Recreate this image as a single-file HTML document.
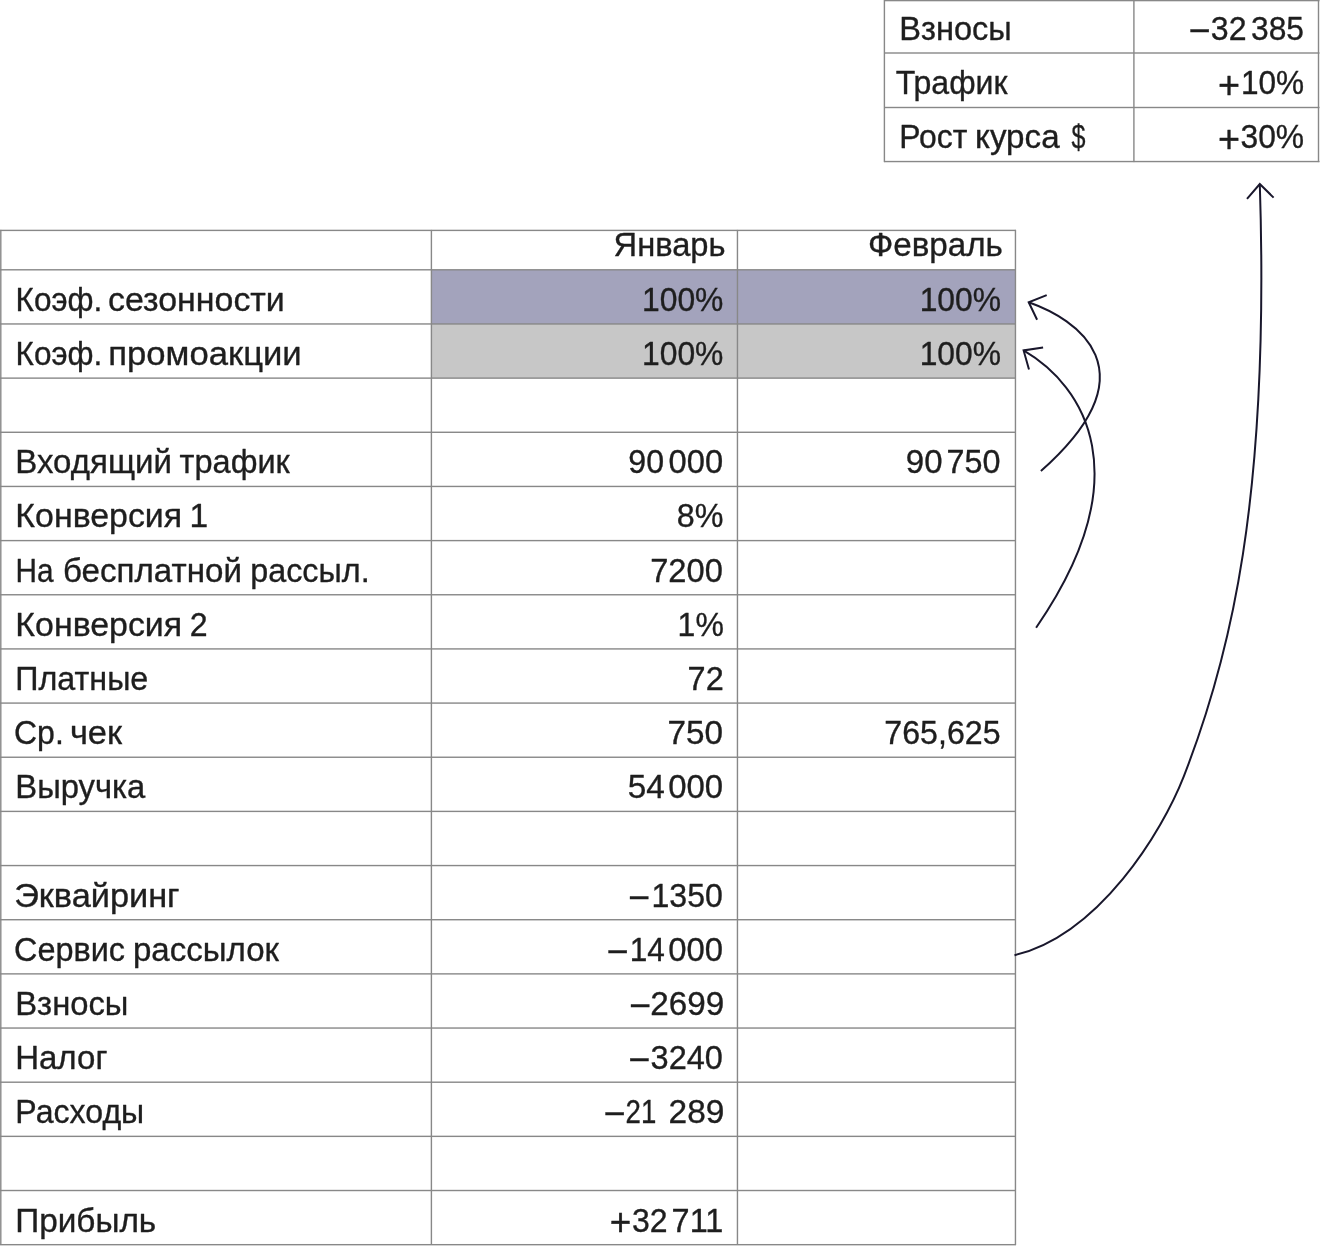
<!DOCTYPE html>
<html lang="ru"><head><meta charset="utf-8"><title>Модель выручки</title>
<style>
html,body{margin:0;padding:0;background:#fff;}
body{width:1320px;height:1246px;overflow:hidden;}
svg{display:block;will-change:transform;}
</style></head><body>
<svg width="1320" height="1246" viewBox="0 0 1320 1246">
<rect width="1320" height="1246" fill="#fff"/>
<g><rect x="431.5" y="269.8" width="584" height="54.16" fill="#a3a3bc"/><rect x="431.5" y="323.96" width="584" height="54.16" fill="#c7c7c7"/></g>
<g fill="#888888">
<rect x="0" y="229.70" width="1016" height="1.4"/>
<rect x="0" y="269.10" width="1016" height="1.4"/>
<rect x="0" y="323.26" width="1016" height="1.4"/>
<rect x="0" y="377.42" width="1016" height="1.4"/>
<rect x="0" y="431.58" width="1016" height="1.4"/>
<rect x="0" y="485.74" width="1016" height="1.4"/>
<rect x="0" y="539.90" width="1016" height="1.4"/>
<rect x="0" y="594.06" width="1016" height="1.4"/>
<rect x="0" y="648.22" width="1016" height="1.4"/>
<rect x="0" y="702.38" width="1016" height="1.4"/>
<rect x="0" y="756.54" width="1016" height="1.4"/>
<rect x="0" y="810.70" width="1016" height="1.4"/>
<rect x="0" y="864.86" width="1016" height="1.4"/>
<rect x="0" y="919.02" width="1016" height="1.4"/>
<rect x="0" y="973.18" width="1016" height="1.4"/>
<rect x="0" y="1027.34" width="1016" height="1.4"/>
<rect x="0" y="1081.50" width="1016" height="1.4"/>
<rect x="0" y="1135.66" width="1016" height="1.4"/>
<rect x="0" y="1189.82" width="1016" height="1.4"/>
<rect x="0" y="1243.98" width="1016" height="1.4"/>
<rect x="0.10" y="229.9" width="1.4" height="1015.1"/>
<rect x="430.70" y="229.9" width="1.4" height="1015.1"/>
<rect x="736.75" y="229.9" width="1.4" height="1015.1"/>
<rect x="1014.75" y="229.9" width="1.4" height="1015.1"/>
<rect x="884" y="-0.10" width="435.5" height="1.4"/>
<rect x="884" y="52.30" width="435.5" height="1.4"/>
<rect x="884" y="106.80" width="435.5" height="1.4"/>
<rect x="884" y="160.85" width="435.5" height="1.4"/>
<rect x="883.70" y="0" width="1.4" height="162.1"/>
<rect x="1133.20" y="0" width="1.4" height="162.1"/>
<rect x="1317.80" y="0" width="1.4" height="162.1"/>
</g>
<g fill="none" stroke="#19172c" stroke-width="2.0">
<path d="M1014.5,955.2 C1099.4,934.8 1162.2,831.5 1183.8,776.3 C1229.9,658.4 1269.9,500.0 1259.8,184.0"/>
<path d="M1247,198.9 L1259.8,184 L1273.6,197.6"/>
<path d="M1040.9,471.0 C1155.3,369.6 1075.8,318.8 1028.7,302.2"/>
<path d="M1046.7,295.1 L1028.7,302.2 L1037.1,319.7"/>
<path d="M1036.1,627.7 C1140.5,476.0 1085.0,386.3 1023.6,350.4"/>
<path d="M1043.1,347.5 L1023.6,350.4 L1029,369.5"/>
</g>
<g font-family="'Liberation Sans', Arial, sans-serif" fill="#1e1e1e" stroke="#1e1e1e" stroke-width="0.35" stroke-linejoin="round">
<text x="15.57" y="310.70" font-size="33" textLength="86.78" lengthAdjust="spacingAndGlyphs">Коэф.</text>
<text x="108.06" y="310.70" font-size="33" textLength="176.75" lengthAdjust="spacingAndGlyphs">сезонности</text>
<text x="15.57" y="364.87" font-size="33" textLength="86.78" lengthAdjust="spacingAndGlyphs">Коэф.</text>
<text x="108.34" y="364.87" font-size="33" textLength="193.36" lengthAdjust="spacingAndGlyphs">промоакции</text>
<text x="15.25" y="473.21" font-size="33" textLength="156.75" lengthAdjust="spacingAndGlyphs">Входящий</text>
<text x="179.61" y="473.21" font-size="33" textLength="110.24" lengthAdjust="spacingAndGlyphs">трафик</text>
<text x="15.38" y="527.38" font-size="33" textLength="166.71" lengthAdjust="spacingAndGlyphs">Конверсия</text>
<text x="15.52" y="581.55" font-size="33" textLength="38.02" lengthAdjust="spacingAndGlyphs">На</text>
<text x="62.99" y="581.55" font-size="33" textLength="178.98" lengthAdjust="spacingAndGlyphs">бесплатной</text>
<text x="250.19" y="581.55" font-size="33" textLength="119.45" lengthAdjust="spacingAndGlyphs">рассыл.</text>
<text x="15.38" y="635.72" font-size="33" textLength="166.71" lengthAdjust="spacingAndGlyphs">Конверсия</text>
<text x="15.31" y="689.89" font-size="33" textLength="132.97" lengthAdjust="spacingAndGlyphs">Платные</text>
<text x="14.00" y="744.06" font-size="33" textLength="49.81" lengthAdjust="spacingAndGlyphs">Ср.</text>
<text x="69.91" y="744.06" font-size="33" textLength="52.17" lengthAdjust="spacingAndGlyphs">чек</text>
<text x="15.27" y="798.23" font-size="33" textLength="130.05" lengthAdjust="spacingAndGlyphs">Выручка</text>
<text x="14.18" y="906.57" font-size="33" textLength="165.46" lengthAdjust="spacingAndGlyphs">Эквайринг</text>
<text x="13.98" y="960.74" font-size="33" textLength="111.02" lengthAdjust="spacingAndGlyphs">Сервис</text>
<text x="132.95" y="960.74" font-size="33" textLength="146.10" lengthAdjust="spacingAndGlyphs">рассылок</text>
<text x="15.27" y="1014.91" font-size="33" textLength="113.15" lengthAdjust="spacingAndGlyphs">Взносы</text>
<text x="15.15" y="1069.08" font-size="33" textLength="92.31" lengthAdjust="spacingAndGlyphs">Налог</text>
<text x="15.33" y="1123.25" font-size="33" textLength="128.86" lengthAdjust="spacingAndGlyphs">Расходы</text>
<text x="15.22" y="1231.59" font-size="33" textLength="141.02" lengthAdjust="spacingAndGlyphs">Прибыль</text>
<text x="613.57" y="256.40" font-size="33" textLength="111.99" lengthAdjust="spacingAndGlyphs">Январь</text>
<text x="867.99" y="256.40" font-size="33" textLength="134.91" lengthAdjust="spacingAndGlyphs">Февраль</text>
<text x="899.28" y="40.00" font-size="33" textLength="112.52" lengthAdjust="spacingAndGlyphs">Взносы</text>
<text x="895.67" y="94.00" font-size="33" textLength="111.83" lengthAdjust="spacingAndGlyphs">Трафик</text>
<text x="899.24" y="148.00" font-size="33" textLength="68.17" lengthAdjust="spacingAndGlyphs">Рост</text>
<text x="975.04" y="148.00" font-size="33" textLength="84.57" lengthAdjust="spacingAndGlyphs">курса</text>
<text x="1071.62" y="148.00" font-size="33" textLength="13.94" lengthAdjust="spacingAndGlyphs">$</text>
<text x="189.60" y="527.38" font-size="33.5" textLength="18.64" lengthAdjust="spacingAndGlyphs">1</text>
<text x="189.72" y="635.72" font-size="33.5" textLength="17.85" lengthAdjust="spacingAndGlyphs">2</text>
<text x="642.02" y="310.70" font-size="33.5" textLength="81.40" lengthAdjust="spacingAndGlyphs">100%</text>
<text x="642.02" y="364.87" font-size="33.5" textLength="81.40" lengthAdjust="spacingAndGlyphs">100%</text>
<text x="628.36" y="473.21" font-size="33.5" textLength="35.75" lengthAdjust="spacingAndGlyphs">90</text>
<text x="668.58" y="473.21" font-size="33.5" textLength="54.49" lengthAdjust="spacingAndGlyphs">000</text>
<text x="676.85" y="527.38" font-size="33.5" textLength="46.68" lengthAdjust="spacingAndGlyphs">8%</text>
<text x="650.19" y="581.55" font-size="33.5" textLength="72.65" lengthAdjust="spacingAndGlyphs">7200</text>
<text x="677.61" y="635.72" font-size="33.5" textLength="46.20" lengthAdjust="spacingAndGlyphs">1%</text>
<text x="687.60" y="689.89" font-size="33.5" textLength="36.11" lengthAdjust="spacingAndGlyphs">72</text>
<text x="667.56" y="744.06" font-size="33.5" textLength="55.54" lengthAdjust="spacingAndGlyphs">750</text>
<text x="627.81" y="798.23" font-size="33.5" textLength="37.10" lengthAdjust="spacingAndGlyphs">54</text>
<text x="668.17" y="798.23" font-size="33.5" textLength="54.91" lengthAdjust="spacingAndGlyphs">000</text>
<text x="651.50" y="906.57" font-size="33.5" textLength="71.42" lengthAdjust="spacingAndGlyphs">1350</text>
<text x="629.74" y="960.74" font-size="33.5" textLength="35.11" lengthAdjust="spacingAndGlyphs">14</text>
<text x="668.27" y="960.74" font-size="33.5" textLength="54.80" lengthAdjust="spacingAndGlyphs">000</text>
<text x="650.26" y="1014.91" font-size="33.5" textLength="73.96" lengthAdjust="spacingAndGlyphs">2699</text>
<text x="650.59" y="1069.08" font-size="33.5" textLength="72.36" lengthAdjust="spacingAndGlyphs">3240</text>
<text x="625.56" y="1123.25" font-size="33.5" textLength="30.70" lengthAdjust="spacingAndGlyphs">21</text>
<text x="668.55" y="1123.25" font-size="33.5" textLength="55.80" lengthAdjust="spacingAndGlyphs">289</text>
<text x="632.01" y="1231.59" font-size="33.5" textLength="35.58" lengthAdjust="spacingAndGlyphs">32</text>
<text x="671.61" y="1231.59" font-size="33.5" textLength="51.71" lengthAdjust="spacingAndGlyphs">711</text>
<text x="919.63" y="310.70" font-size="33.5" textLength="81.30" lengthAdjust="spacingAndGlyphs">100%</text>
<text x="919.63" y="364.87" font-size="33.5" textLength="81.30" lengthAdjust="spacingAndGlyphs">100%</text>
<text x="905.82" y="473.21" font-size="33.5" textLength="36.67" lengthAdjust="spacingAndGlyphs">90</text>
<text x="946.61" y="473.21" font-size="33.5" textLength="53.95" lengthAdjust="spacingAndGlyphs">750</text>
<text x="884.32" y="744.06" font-size="33.5" textLength="116.29" lengthAdjust="spacingAndGlyphs">765,625</text>
<text x="1210.80" y="40.00" font-size="33.5" textLength="35.69" lengthAdjust="spacingAndGlyphs">32</text>
<text x="1251.01" y="40.00" font-size="33.5" textLength="53.02" lengthAdjust="spacingAndGlyphs">385</text>
<text x="1240.94" y="94.00" font-size="33.5" textLength="63.19" lengthAdjust="spacingAndGlyphs">10%</text>
<text x="1240.51" y="148.00" font-size="33.5" textLength="63.63" lengthAdjust="spacingAndGlyphs">30%</text>
<text transform="matrix(0.9838 0 0 1.1000 630.10 906.52)" font-size="33.5">–</text>
<text transform="matrix(0.9838 0 0 1.1000 608.60 960.69)" font-size="33.5">–</text>
<text transform="matrix(0.9838 0 0 1.1000 630.90 1014.86)" font-size="33.5">–</text>
<text transform="matrix(0.9838 0 0 1.1000 630.20 1069.03)" font-size="33.5">–</text>
<text transform="matrix(0.9838 0 0 1.1000 605.50 1123.20)" font-size="33.5">–</text>
<text transform="matrix(1.1015 0 0 1.1754 609.87 1235.12)" font-size="33.5">+</text>
<text transform="matrix(0.9838 0 0 1.1000 1190.60 39.95)" font-size="33.5">–</text>
<text transform="matrix(1.1262 0 0 1.1754 1218.03 97.53)" font-size="33.5">+</text>
<text transform="matrix(1.1262 0 0 1.1754 1218.03 151.53)" font-size="33.5">+</text>
</g>
</svg>
</body></html>
